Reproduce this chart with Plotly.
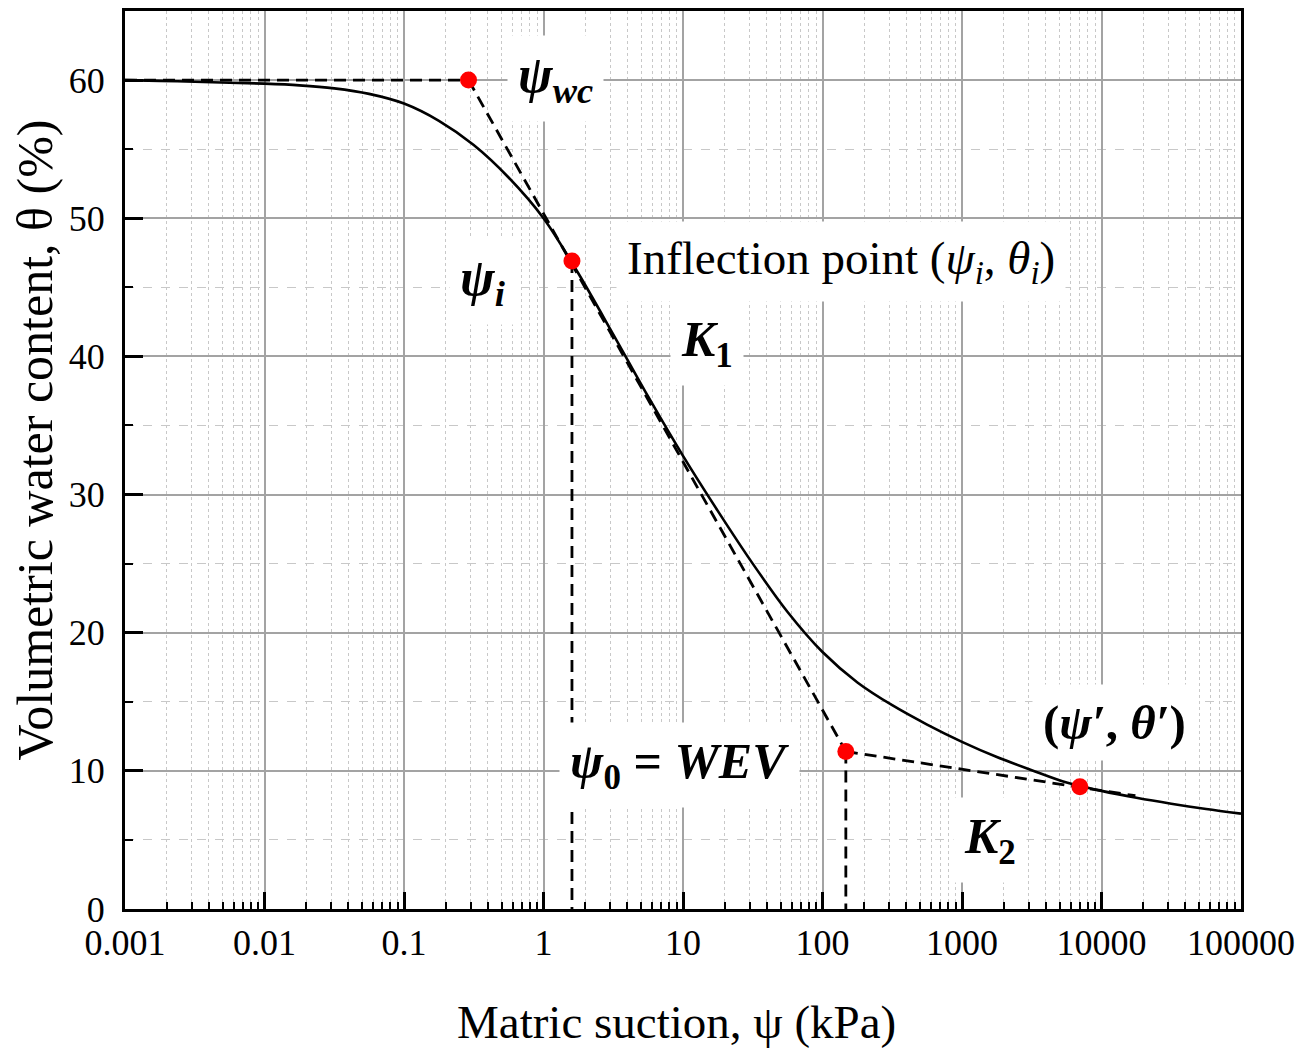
import plotly.graph_objects as go

# ---- data ----
psi_curve = [0.001, 0.00178, 0.00316, 0.00562, 0.01, 0.0178, 0.0316, 0.0562, 0.1, 0.178, 0.316,
             0.562, 1.0, 1.78, 3.16, 5.62, 10, 17.8, 31.6, 56.2, 100, 178, 316, 562, 1000, 1778,
             3162, 5623, 10000, 17783, 31620, 56230, 100000]
theta_curve = [60.0, 59.94, 59.88, 59.81, 59.74, 59.62, 59.4, 59.0, 58.3, 57.05, 55.3,
               52.95, 50.0, 46.0, 41.6, 37.1, 32.8, 28.8, 25.0, 21.5, 18.6, 16.4, 14.75, 13.35,
               12.1, 11.0, 10.05, 9.15, 8.55, 8.05, 7.62, 7.24, 6.9]

key_psi = [0.29, 1.6, 147, 7000]        # psi_wc, psi_i, psi_0, psi'
key_theta = [60.0, 46.9, 11.4, 8.85]

hline_x = [0.001, 0.29]
hline_y = [60.0, 60.0]
k1_x = [0.29, 147]
k1_y = [60.0, 11.4]
k2_x = [147, 17500]
k2_y = [11.4, 8.2]
vi_x = [1.6, 1.6]
vi_y = [46.9, 0.0]
v0_x = [147, 147]
v0_y = [11.4, 0.0]

x_tickvals = [0.001, 0.01, 0.1, 1, 10, 100, 1000, 10000, 100000]
x_ticktext = ["0.001", "0.01", "0.1", "1", "10", "100", "1000", "10000", "100000"]
y_tickvals = [0, 10, 20, 30, 40, 50, 60]
y_ticktext = ["0", "10", "20", "30", "40", "50", "60"]

x_title = "Matric suction, ψ (kPa)"
y_title = "Volumetric water content, θ (%)"

x_minor = [m * d for d in [0.001, 0.01, 0.1, 1, 10, 100, 1000, 10000] for m in range(2, 10)]

SERIF = "Liberation Serif"

fig = go.Figure()

dash_style = dict(color="black", width=2.8, dash="12px,7px")
for xs, ys in [(hline_x, hline_y), (k1_x, k1_y), (k2_x, k2_y), (vi_x, vi_y), (v0_x, v0_y)]:
    fig.add_trace(go.Scatter(x=xs, y=ys, mode="lines", line=dash_style,
                             showlegend=False, hoverinfo="skip"))

fig.add_trace(go.Scatter(x=psi_curve, y=theta_curve, mode="lines",
                         line=dict(color="black", width=2.6, shape="spline", smoothing=0.9),
                         showlegend=False))

fig.add_trace(go.Scatter(x=key_psi, y=key_theta, mode="markers",
                         marker=dict(color="#ff0000", size=17, line=dict(width=0)),
                         showlegend=False))

labels = [
    (0.087, 60.15, "<b><i>ψ</i><sub><i>wc</i></sub></b>", 52),
    (-0.436, 45.4, "<b><i>ψ</i><sub><i>i</i></sub></b>", 52),
    (2.136, 46.9, "Inflection point (<i>ψ</i><sub><i>i</i></sub>, <i>θ</i><sub><i>i</i></sub>)", 47),
    (1.169, 41.0, "<b><i>K</i><sub>1</sub></b>", 50),
    (0.976, 10.4, "<b><i>ψ</i><sub>0</sub> = <i>WEV</i></b>", 50),
    (4.092, 13.5, "<b>(<i>ψ′</i>, <i>θ′</i>)</b>", 49),
    (3.203, 4.97, "<b><i>K</i><sub>2</sub></b>", 50),
]
for lx, ly, txt, fs in labels:
    fig.add_annotation(x=lx, y=ly, xref="x", yref="y", text=txt, showarrow=False,
                       font=dict(family=SERIF, size=fs, color="black"),
                       bgcolor="white", borderpad=10)

fig.add_annotation(x=0.494, y=-0.126, xref="paper", yref="paper", text=x_title,
                   showarrow=False, xanchor="center", yanchor="middle",
                   font=dict(family=SERIF, size=47, color="black"))
fig.add_annotation(x=-0.0805, y=0.522, xref="paper", yref="paper", text=y_title,
                   showarrow=False, xanchor="center", yanchor="middle", textangle=-90,
                   font=dict(family=SERIF, size=50, color="black"))

fig.update_layout(
    width=1316, height=1048,
    margin=dict(l=117, r=83, t=3, b=147),
    paper_bgcolor="white", plot_bgcolor="white",
    font=dict(family=SERIF, color="black"),
    xaxis=dict(
        type="log", range=[-3, 5], automargin=False,
        tickmode="array", tickvals=x_tickvals, ticktext=x_ticktext,
        tickfont=dict(family=SERIF, size=36, color="black"),
        ticks="inside", ticklen=17, tickwidth=2.5, tickcolor="black",
        showline=True, linewidth=3, linecolor="black", mirror=True,
        showgrid=True, gridcolor="#a3a3a3", gridwidth=1.5,
        minor=dict(tickmode="array", tickvals=x_minor, ticks="inside", ticklen=7,
                   tickwidth=2, tickcolor="black", showgrid=True,
                   gridcolor="#c8c8c8", griddash="dot", gridwidth=1.2),
        zeroline=False,
    ),
    yaxis=dict(
        range=[0, 65], automargin=False,
        tickmode="array", tickvals=y_tickvals, ticktext=y_ticktext,
        tickfont=dict(family=SERIF, size=36, color="black"),
        ticks="inside", ticklen=18, tickwidth=2.5, tickcolor="black",
        ticklabelstandoff=10,
        showline=True, linewidth=3, linecolor="black", mirror=True,
        showgrid=True, gridcolor="#a3a3a3", gridwidth=1.5,
        minor=dict(dtick=5, ticks="inside", ticklen=8, tickwidth=2, tickcolor="black",
                   showgrid=True, gridcolor="#c8c8c8", griddash="dash", gridwidth=1.2),
        zeroline=False,
    ),
)

fig.write_html("out.html")
